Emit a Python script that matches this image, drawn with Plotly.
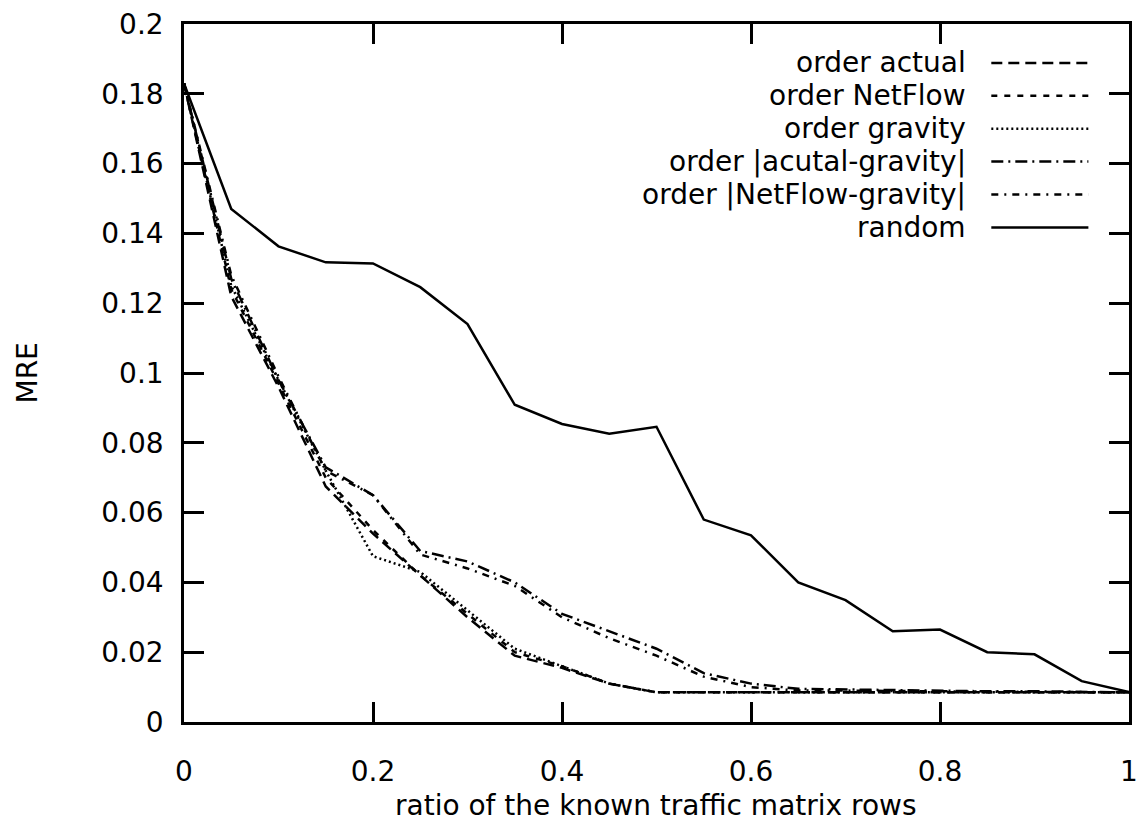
import plotly.graph_objects as go

x_ratio = [0.0, 0.05, 0.10, 0.15, 0.20, 0.25, 0.30, 0.35, 0.40, 0.45, 0.50,
           0.55, 0.60, 0.65, 0.70, 0.75, 0.80, 0.85, 0.90, 0.95, 1.0]

order_actual = [0.183, 0.122, 0.096, 0.0675, 0.054, 0.042, 0.030, 0.019, 0.0155, 0.011, 0.0085,
                0.0085, 0.0085, 0.0085, 0.0085, 0.0085, 0.0085, 0.0085, 0.0085, 0.0085, 0.0085]
order_netflow = [0.183, 0.124, 0.097, 0.070, 0.055, 0.042, 0.031, 0.020, 0.016, 0.011, 0.0085,
                 0.0085, 0.0085, 0.0085, 0.0085, 0.0085, 0.0085, 0.0085, 0.0085, 0.0085, 0.0085]
order_gravity = [0.183, 0.125, 0.098, 0.072, 0.0475, 0.043, 0.032, 0.021, 0.016, 0.011, 0.0085,
                 0.0085, 0.0085, 0.0085, 0.0085, 0.0085, 0.0085, 0.0085, 0.0085, 0.0085, 0.0085]
order_actual_gravity = [0.183, 0.127, 0.098, 0.073, 0.065, 0.049, 0.046, 0.040, 0.031, 0.026, 0.021,
                        0.014, 0.011, 0.0095, 0.0093, 0.009, 0.009, 0.0088, 0.0088, 0.0086, 0.0085]
order_netflow_gravity = [0.183, 0.128, 0.099, 0.072, 0.065, 0.048, 0.044, 0.039, 0.030, 0.024, 0.019,
                         0.013, 0.010, 0.009, 0.009, 0.0088, 0.0088, 0.0087, 0.0087, 0.0086, 0.0085]
random_order = [0.183, 0.147, 0.1363, 0.1317, 0.1314, 0.1246, 0.114, 0.0909, 0.0854, 0.0826, 0.0846,
                0.058, 0.0535, 0.040, 0.0349, 0.026, 0.0265, 0.020, 0.0194, 0.0117, 0.0086]

series_names = ["order actual", "order NetFlow", "order gravity",
                "order |acutal-gravity|", "order |NetFlow-gravity|", "random"]
series_values = [order_actual, order_netflow, order_gravity,
                 order_actual_gravity, order_netflow_gravity, random_order]
series_dash = ["11px,6px", "6px,7px", "2px,3px", "12px,5px,2px,5px", "7px,6px,2px,6px", "solid"]

W, H = 1146, 821
L, R, T, B = 184, 1138, 22, 722
FONT = "DejaVu Sans, Liberation Sans, Arial, sans-serif"
FS = 28

fig = go.Figure()
for name, vals, dash in zip(series_names, series_values, series_dash):
    fig.add_trace(go.Scatter(x=x_ratio, y=vals, mode="lines", name=name,
                             line=dict(color="black", width=2.5, dash=dash),
                             showlegend=False))

# manual gnuplot-style legend: text right-aligned, sample to the right
def py(p):
    return (B - p) / (B - T)
def px(p):
    return (p - L) / (R - L)

for i, (name, dash) in enumerate(zip(series_names, series_dash)):
    yc = 61 + 33 * i
    fig.add_shape(type="line", xref="paper", yref="paper",
                  x0=px(999), x1=px(1097), y0=py(yc), y1=py(yc),
                  line=dict(color="black", width=2.5, dash=dash))
    fig.add_annotation(xref="paper", yref="paper", x=px(975), y=py(yc),
                       xanchor="right", yanchor="middle", showarrow=False,
                       text=name, font=dict(family=FONT, size=FS, color="black"))

fig.add_annotation(xref="paper", yref="paper", x=px(660), y=py(806),
                   xanchor="center", yanchor="middle", showarrow=False,
                   text="ratio of the known traffic matrix rows",
                   font=dict(family=FONT, size=FS, color="black"))
fig.add_annotation(xref="paper", yref="paper", x=px(25), y=py(372),
                   xanchor="center", yanchor="middle", showarrow=False, textangle=-90,
                   text="MRE", font=dict(family=FONT, size=FS, color="black"))

axis_common = dict(showline=True, linecolor="black", linewidth=2.5, mirror="ticks",
                   ticks="inside", ticklen=20, tickwidth=2.5, tickcolor="black",
                   showgrid=False, zeroline=False,
                   tickfont=dict(family=FONT, size=FS, color="black"))

fig.update_layout(
    width=W, height=H,
    margin=dict(l=L, r=W - R, t=T, b=H - B, pad=0),
    paper_bgcolor="white", plot_bgcolor="white",
    xaxis=dict(range=[0, 1], tick0=0, dtick=0.2, ticklabelstandoff=23, **axis_common),
    yaxis=dict(range=[0, 0.2], tick0=0, dtick=0.02, ticklabelstandoff=12, **axis_common),
    font=dict(family=FONT, size=FS, color="black"),
)

fig.write_html("out.html")
